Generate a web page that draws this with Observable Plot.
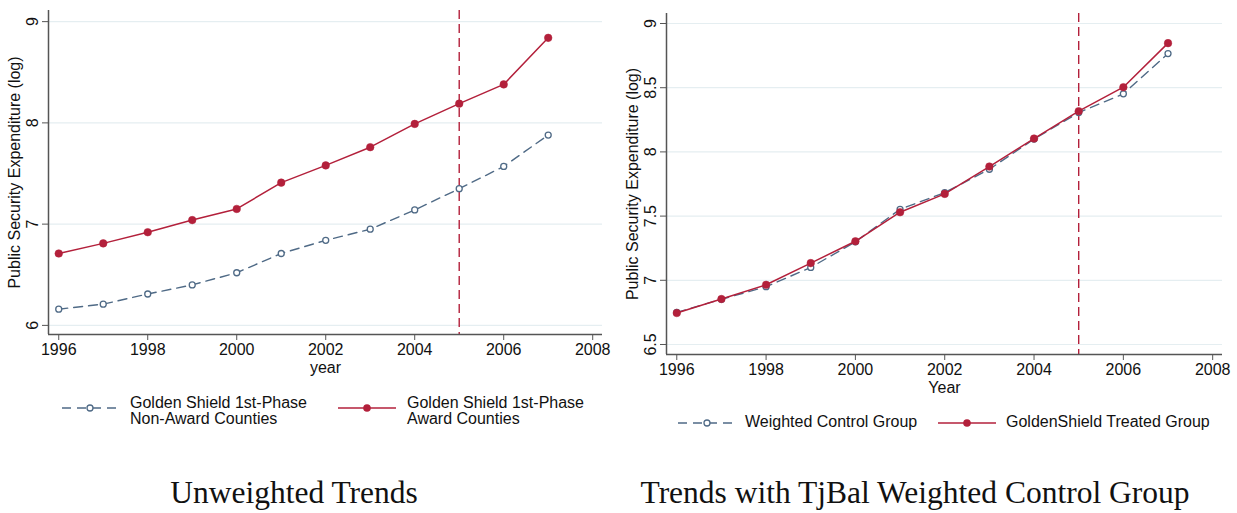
<!DOCTYPE html>
<html>
<head>
<meta charset="utf-8">
<script src="https://cdn.jsdelivr.net/npm/d3@7"></script>
<script src="https://cdn.jsdelivr.net/npm/@observablehq/plot@0.6"></script>
<style>
  html, body { margin: 0; padding: 0; background: #fff; }
  #wrap { position: relative; width: 1237px; height: 513px; background: #fff; overflow: hidden; font-family: "Liberation Sans", Arial, sans-serif; }
  .panel { position: absolute; top: 0; }
  .legend { position: absolute; display: flex; align-items: flex-start; font-size: 16px; color: #111; line-height: 16px; }
  .item { display: flex; align-items: flex-start; }
  .item svg { flex: none; }
  .title { position: absolute; font-family: "Liberation Serif", "Times New Roman", serif; font-size: 31.5px; color: #111; white-space: nowrap; transform: translateX(-50%); }
</style>
</head>
<body>
<div id="wrap">
  <div class="panel" id="left" style="left:0px"></div>
  <div class="panel" id="right" style="left:618px"></div>

  <div class="legend" id="legL" style="left:60px; top:395px;">
    <div class="item" style="width:278px">
      <svg width="62" height="30"><line x1="2" x2="60" y1="13" y2="13" stroke="#4f6a86" stroke-width="1.4" stroke-dasharray="9,6"/><circle cx="30" cy="13" r="3" fill="#fff" stroke="#4f6a86" stroke-width="1.3"/></svg>
      <div style="margin-left:8px">Golden Shield 1st-Phase<br>Non-Award Counties</div>
    </div>
    <div class="item">
      <svg width="62" height="30"><line x1="0" x2="58" y1="13" y2="13" stroke="#b3203b" stroke-width="1.5"/><circle cx="29" cy="13" r="3.8" fill="#b3203b"/></svg>
      <div style="margin-left:7px">Golden Shield 1st-Phase<br>Award Counties</div>
    </div>
  </div>

  <div class="legend" id="legR" style="left:676px; top:414px;">
    <div class="item" style="width:262px">
      <svg width="62" height="20"><line x1="2" x2="60" y1="9" y2="9" stroke="#4f6a86" stroke-width="1.4" stroke-dasharray="9,6"/><circle cx="31" cy="9" r="3" fill="#fff" stroke="#4f6a86" stroke-width="1.3"/></svg>
      <div style="margin-left:7px">Weighted Control Group</div>
    </div>
    <div class="item">
      <svg width="62" height="20"><line x1="0" x2="58" y1="9" y2="9" stroke="#b3203b" stroke-width="1.5"/><circle cx="29" cy="9" r="3.8" fill="#b3203b"/></svg>
      <div style="margin-left:6px">GoldenShield Treated Group</div>
    </div>
  </div>

  <div class="title" style="left:294px; top:475px;">Unweighted Trends</div>
  <div class="title" style="left:915px; top:475px;">Trends with TjBal Weighted Control Group</div>
</div>
<script>
// ---- data ----
const years = [1996, 1997, 1998, 1999, 2000, 2001, 2002, 2003, 2004, 2005, 2006, 2007];
const awardLeft    = [6.71, 6.81, 6.92, 7.04, 7.15, 7.41, 7.58, 7.76, 7.99, 8.19, 8.38, 8.84];
const nonAwardLeft = [6.16, 6.21, 6.31, 6.40, 6.52, 6.71, 6.84, 6.95, 7.14, 7.35, 7.57, 7.88];
const treatedRight = [6.745, 6.854, 6.965, 7.134, 7.304, 7.530, 7.673, 7.886, 8.104, 8.317, 8.504, 8.847];
const controlRight = [6.750, 6.852, 6.950, 7.100, 7.300, 7.553, 7.683, 7.865, 8.100, 8.306, 8.452, 8.766];
const xTicks = [1996, 1998, 2000, 2002, 2004, 2006, 2008];
const yTicksLeft = [6, 7, 8, 9];
const yTicksRight = [6.5, 7, 7.5, 8, 8.5, 9];
const yTickLabelsRight = ["6.5", "7", "7.5", "8", "8.5", "9"];
const treatmentYear = [2005];
const xDomain = [1995.77, 2008.22];
const yDomainLeft = [5.91, 9.11];
const yDomainRight = [6.422, 9.078];

const RED = "#b3203b", BLUE = "#4f6a86", GRID = "#e5eef1", AXIS = "#555";

function toRows(vals) { return years.map((y, i) => ({year: y, v: vals[i]})); }

function panel({width, height, mt, mb, ml, mr, yDomain, yTicks, yFmt, ctrl, trt, xLabel}) {
  return Plot.plot({
    width, height,
    marginTop: mt, marginBottom: mb, marginLeft: ml, marginRight: mr,
    style: {fontFamily: "Liberation Sans, Arial, sans-serif", fontSize: "16px", color: "#111", background: "#fff"},
    x: {domain: xDomain},
    y: {domain: yDomain},
    marks: [
      Plot.gridY(yTicks, {stroke: GRID, strokeOpacity: 1, strokeWidth: 1.2}),
      Plot.ruleX(treatmentYear, {stroke: RED, strokeWidth: 1.4, strokeDasharray: "9,5"}),
      Plot.line(ctrl, {x: "year", y: "v", stroke: BLUE, strokeWidth: 1.4, strokeDasharray: "9,6"}),
      Plot.dot(ctrl, {x: "year", y: "v", r: 3, fill: "#fff", stroke: BLUE, strokeWidth: 1.3}),
      Plot.line(trt, {x: "year", y: "v", stroke: RED, strokeWidth: 1.5}),
      Plot.dot(trt, {x: "year", y: "v", r: 3.8, fill: RED, stroke: RED, strokeWidth: 0.5}),
      Plot.ruleX([xDomain[0]], {stroke: AXIS, strokeWidth: 1.5}),
      Plot.ruleY([yDomain[0]], {stroke: AXIS, strokeWidth: 1.5}),
      Plot.axisX(xTicks, {tickFormat: d => String(d), tickSize: 6, tickPadding: 3, stroke: AXIS, label: xLabel, labelAnchor: "center", labelOffset: 38, labelArrow: "none"}),
      Plot.axisY(yTicks, {tickFormat: yFmt, tickSize: 6, tickPadding: 5, tickRotate: -90, stroke: AXIS, label: "Public Security Expenditure (log)", labelAnchor: "center", labelOffset: 40, labelArrow: "none"})
    ]
  });
}

document.getElementById("left").appendChild(panel({
  width: 618, height: 385, mt: 10, mb: 51, ml: 48, mr: 16,
  yDomain: yDomainLeft, yTicks: yTicksLeft, yFmt: d => String(d),
  ctrl: toRows(nonAwardLeft), trt: toRows(awardLeft), xLabel: "year"
}));
document.getElementById("right").appendChild(panel({
  width: 619, height: 400, mt: 13, mb: 46, ml: 48, mr: 15,
  yDomain: yDomainRight, yTicks: yTicksRight, yFmt: (d, i) => yTickLabelsRight[i],
  ctrl: toRows(controlRight), trt: toRows(treatedRight), xLabel: "Year"
}));
</script>
</body>
</html>
